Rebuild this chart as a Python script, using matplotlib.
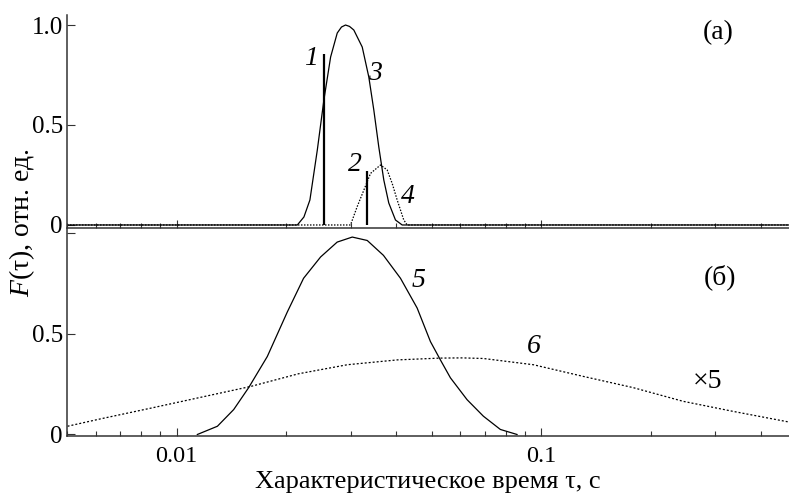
import matplotlib
matplotlib.use("Agg")
import matplotlib.pyplot as plt
from matplotlib.ticker import LogLocator, NullFormatter, FixedLocator, FixedFormatter

plt.rcParams['font.family'] = ['Liberation Serif', 'DejaVu Serif']
plt.rcParams['mathtext.fontset'] = 'custom'
plt.rcParams['mathtext.rm'] = 'Liberation Serif'
plt.rcParams['mathtext.it'] = 'Liberation Serif:italic'

# (а) upper panel
line1_tau = 0.0253
line1_h = 0.855
line2_tau = 0.0332
line2_h = 0.27

curve3_tau = [0.005, 0.02142, 0.02233, 0.02319, 0.02430, 0.02533, 0.02643, 0.02756, 0.02831, 0.02904,
              0.02978, 0.03060, 0.03227, 0.03364, 0.03472, 0.03583, 0.03698, 0.03816, 0.03981,
              0.04153, 0.48]
curve3_f = [0.0, 0.0, 0.04, 0.125, 0.375, 0.625, 0.84, 0.96, 0.99, 1.0,
            0.993, 0.975, 0.89, 0.74, 0.575, 0.39, 0.225, 0.11, 0.025,
            0.0, 0.0]

curve4_tau = [0.005, 0.02997, 0.03126, 0.03261, 0.03401, 0.03622, 0.03778, 0.03899, 0.04024,
              0.04195, 0.04287, 0.48]
curve4_f = [0.0, 0.0, 0.092, 0.175, 0.258, 0.30, 0.275, 0.208, 0.125, 0.025, 0.0, 0.0]

# (б) lower panel
curve5_tau = [0.01139, 0.01293, 0.01433, 0.01575, 0.01772, 0.02010, 0.02228, 0.02481, 0.02755,
              0.03030, 0.03331, 0.03690, 0.04109, 0.04565, 0.04965, 0.05287, 0.05632, 0.06258,
              0.06936, 0.07722, 0.08579]
curve5_f = [0.0, 0.041, 0.124, 0.233, 0.388, 0.609, 0.777, 0.883, 0.957,
            0.982, 0.965, 0.891, 0.777, 0.629, 0.462, 0.371, 0.282, 0.173,
            0.091, 0.025, 0.0]

curve6_tau = [0.005017, 0.00619, 0.00849, 0.01164, 0.01596, 0.02158, 0.02938, 0.04027, 0.05286,
              0.0608, 0.06937, 0.09511, 0.1303, 0.1787, 0.2449, 0.3357, 0.4811]
curve6_f = [0.041, 0.078, 0.131, 0.185, 0.239, 0.302, 0.347, 0.371, 0.380,
            0.381, 0.378, 0.347, 0.289, 0.233, 0.165, 0.115, 0.061]

xlim = (0.005, 0.478)
spine_col = '#333333'

fig = plt.figure(figsize=(7.89, 4.94), dpi=100)
ax1 = fig.add_axes([0.0849, 0.5385, 0.9151, 0.4311])
ax2 = fig.add_axes([0.0849, 0.1164, 0.9151, 0.4200])

for ax in (ax1, ax2):
    ax.set_xscale('log')
    ax.set_xlim(*xlim)
    for s in ('top', 'right'):
        ax.spines[s].set_visible(False)
    for s in ('left', 'bottom'):
        ax.spines[s].set_linewidth(1.1)
        ax.spines[s].set_color(spine_col)
    ax.xaxis.set_major_locator(LogLocator(base=10, numticks=10))
    ax.xaxis.set_minor_locator(LogLocator(base=10, subs=range(2, 10), numticks=20))
    ax.xaxis.set_minor_formatter(NullFormatter())
    ax.tick_params(axis='both', which='major', direction='in', length=6, width=0.8,
                   color=spine_col, labelsize=18)
    ax.tick_params(axis='y', which='major', pad=3)
    ax.tick_params(axis='x', which='minor', direction='in', length=3.5, width=0.8,
                   color=spine_col)
    ax.tick_params(axis='x', which='major', pad=7, labelsize=17.5)
    ax.tick_params(axis='y', which='minor', left=False)

# upper panel
ax1.plot(curve3_tau, curve3_f, color='black', lw=0.9)
ax1.plot(curve4_tau, curve4_f, color='black', lw=0.9, linestyle=(0, (1.2, 1.2)))
ax1.vlines([line1_tau, line2_tau], 0, [line1_h, line2_h], color='black', lw=1.6)
ax1.set_ylim(-0.015, 1.05)
ax1.yaxis.set_major_locator(FixedLocator([0, 0.5, 1.0]))
ax1.yaxis.set_major_formatter(FixedFormatter(['0', '0.5', '1.0']))
ax1.tick_params(axis='x', labelbottom=False)

lab = dict(fontsize=20, style='italic', ha='center', va='center')
ax1.text(0.02328, 0.835, '1', **lab)
ax1.text(0.03488, 0.76, '3', **lab)
ax1.text(0.03075, 0.30, '2', **lab)
ax1.text(0.04294, 0.14, '4', **lab)
ax1.text(0.305, 0.96, '(а)', fontsize=20, ha='center', va='center')

# lower panel
ax2.plot(curve5_tau, curve5_f, color='black', lw=0.9)
ax2.plot(curve6_tau, curve6_f, color='black', lw=0.9, linestyle=(0, (1.6, 1.6)))
ax2.set_ylim(-0.01, 1.022)
ax2.yaxis.set_major_locator(FixedLocator([0, 0.5, 1.0]))
ax2.yaxis.set_major_formatter(FixedFormatter(['0', '0.5', '']))
ax2.set_xticks([0.01, 0.1])
ax2.set_xticklabels(['0.01', '0.1'])

ax2.text(0.0460, 0.767, '5', **lab)
ax2.text(0.0951, 0.436, '6', **lab)
ax2.text(0.285, 0.262, '×5', fontsize=20, ha='center', va='center')
ax2.text(0.309, 0.78, '(б)', fontsize=20, ha='center', va='center')

fig.text(428 / 789, 1 / 494, 'Характеристическое время τ, с', fontsize=19,
         ha='center', va='bottom')
fig.text(22 / 789, 1 - 223 / 494, '$F$(τ), отн. ед.', rotation=90, fontsize=20,
         ha='center', va='center')

fig.savefig('out.png', dpi=100)
